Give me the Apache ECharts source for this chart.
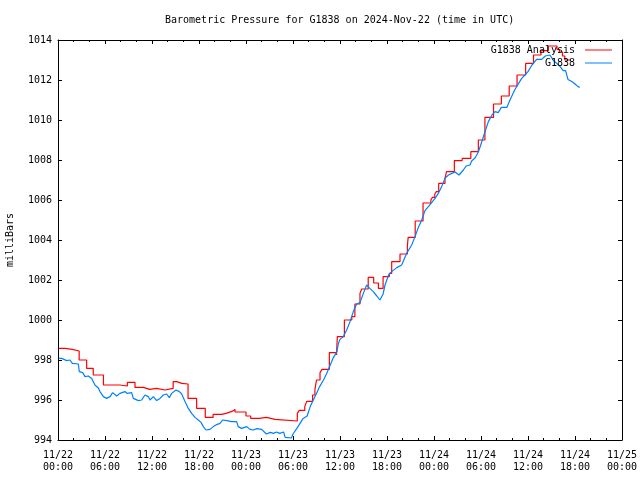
<!DOCTYPE html>
<html>
<head>
<meta charset="utf-8">
<script src="https://cdn.jsdelivr.net/npm/echarts@6/dist/echarts.min.js"></script>
<style>html,body{margin:0;padding:0;background:#fff}#c{width:640px;height:480px}</style>
</head>
<body>
<div id="c"></div>
<script>
// Hours since 2024-11-22 00:00 UTC
var xTickLabels = ['11/22\n00:00','11/22\n06:00','11/22\n12:00','11/22\n18:00','11/23\n00:00','11/23\n06:00','11/23\n12:00','11/23\n18:00','11/24\n00:00','11/24\n06:00','11/24\n12:00','11/24\n18:00','11/25\n00:00'];
var yTickValues = [994, 996, 998, 1000, 1002, 1004, 1006, 1008, 1010, 1012, 1014];

// G1838 Analysis (stepped)
var redTimes = [0.1,0.9,1.83,2.7,3.66,4.5,5.8,7.9,8.85,9.83,10.9,11.7,12.6,13.66,14.7,15.15,15.8,16.6,17.7,18.8,19.8,20.9,21.45,22.2,22.6,24.0,24.6,25.7,26.6,27.7,30.55,30.8,31.5,31.75,32.5,32.8,33.0,33.45,33.7,34.64,35.55,35.66,36.56,37.5,37.9,38.55,38.77,39.6,39.9,40.3,40.9,41.5,42.3,42.6,43.66,44.6,44.7,45.6,46.6,47.6,47.8,48.1,48.3,48.6,49.4,49.6,50.6,51.6,52.7,53.66,54.5,55.6,56.6,57.6,58.6,59.7,60.7,61.65,62.6,63.7,64.0,64.4,64.7,65.4];
var redValues = [998.58,998.53,998.45,998.0,997.58,997.25,996.75,996.7,996.88,996.63,996.53,996.58,996.5,996.58,996.92,996.83,996.8,996.08,995.58,995.13,995.28,995.33,995.43,995.53,995.4,995.2,995.08,995.13,995.03,994.95,995.33,995.48,995.67,995.93,996.25,996.53,997.0,997.37,997.53,998.37,998.25,999.17,1000.0,1000.17,1000.8,1001.33,1001.55,1002.13,1002.13,1001.85,1001.58,1002.17,1002.33,1002.92,1003.3,1003.7,1004.13,1004.95,1005.85,1006.0,1006.13,1006.3,1006.42,1006.83,1007.08,1007.42,1007.97,1008.08,1008.42,1009.0,1010.13,1010.8,1011.2,1011.7,1012.25,1012.83,1013.25,1013.47,1013.7,1013.53,1013.4,1013.2,1013.0,1013.0];

// G1838 observations
var blueTimes = [0.1,0.47,1.11,1.53,1.83,2.6,2.72,3.15,3.45,3.87,4.3,4.72,5.15,5.36,5.79,6.21,6.64,6.98,7.49,7.91,8.55,8.85,9.4,9.62,10.26,10.68,11.1,11.53,11.74,12.17,12.6,13.02,13.45,13.87,14.21,14.51,15.06,15.49,15.79,16.21,16.64,17.06,17.49,17.91,18.26,18.55,18.89,19.4,19.83,20.26,20.68,21.02,21.53,22.17,22.81,23.0,23.45,24.1,24.5,24.9,25.4,26.0,26.6,27.1,27.5,27.9,28.3,28.8,29.0,29.8,30.0,30.5,30.9,31.3,31.8,32.2,32.5,33.0,33.4,33.9,34.3,34.7,35.1,35.6,35.8,36.0,36.43,36.85,37.28,37.7,38.13,38.55,38.98,39.4,39.8,40.25,40.7,41.1,41.5,41.75,42.2,42.6,43.24,43.87,44.5,45.15,45.58,46.0,46.43,46.85,47.28,47.7,48.13,48.55,48.98,49.4,49.84,50.27,50.68,51.2,51.75,52.1,52.6,52.8,53.24,53.66,54.09,54.5,54.94,55.4,55.8,56.2,56.6,57.3,57.7,58.3,58.8,59.2,59.6,60.0,60.5,61.1,61.75,62.2,62.4,62.8,63.2,63.66,64.1,64.5,64.8,65.1,65.6,66.0,66.4,66.6];
var blueValues = [998.08,998.08,997.97,998.0,997.83,997.8,997.42,997.37,997.17,997.2,997.08,996.75,996.6,996.42,996.17,996.08,996.17,996.37,996.2,996.33,996.42,996.33,996.37,996.08,995.97,996.0,996.25,996.17,996.0,996.17,995.97,996.08,996.25,996.3,996.12,996.33,996.5,996.42,996.3,995.92,995.58,995.33,995.13,995.0,994.88,994.67,994.5,994.53,994.67,994.77,994.83,995.0,994.97,994.92,994.92,994.67,994.58,994.67,994.53,994.5,994.57,994.53,994.3,994.38,994.33,994.4,994.33,994.4,994.13,994.1,994.3,994.58,994.83,995.08,995.2,995.67,995.92,996.33,996.67,997.0,997.33,997.7,998.08,998.42,998.83,999.03,999.17,999.5,999.92,1000.42,1000.8,1000.87,1001.33,1001.75,1001.58,1001.42,1001.2,1001.0,1001.3,1001.75,1002.25,1002.42,1002.62,1002.75,1003.33,1003.75,1004.17,1004.63,1005.0,1005.47,1005.67,1005.87,1006.08,1006.33,1006.67,1007.08,1007.25,1007.33,1007.4,1007.25,1007.5,1007.7,1007.75,1007.95,1008.1,1008.4,1008.9,1009.4,1009.92,1010.25,1010.42,1010.37,1010.63,1010.63,1011.0,1011.5,1011.83,1012.08,1012.25,1012.42,1012.75,1013.03,1013.03,1013.2,1013.1,1013.25,1013.0,1012.83,1012.67,1012.47,1012.47,1012.03,1011.92,1011.8,1011.67,1011.63];

function zip(a, b) { return a.map(function (t, i) { return [t, b[i]]; }); }

var FONT = 'DejaVu Sans Mono';
var chart = echarts.init(document.getElementById('c'), null, { renderer: 'canvas' });

var axisLine = { show: true, onZero: false, lineStyle: { color: '#000', width: 1 } };
var xBase = {
  type: 'value', min: 0, max: 72, interval: 6,
  axisLine: axisLine,
  axisTick: { show: true, inside: true, length: 4, lineStyle: { color: '#000' } },
  minorTick: { show: true, splitNumber: 3, length: 2, lineStyle: { color: '#000' } },
  splitLine: { show: false }
};
var yBase = {
  type: 'value', min: yTickValues[0], max: yTickValues[yTickValues.length - 1], interval: 2,
  axisLine: axisLine,
  axisTick: { show: true, inside: true, length: 4, lineStyle: { color: '#000' } },
  splitLine: { show: false }
};

chart.setOption({
  animation: false,
  backgroundColor: '#fff',
  title: {
    text: 'Barometric Pressure for G1838 on 2024-Nov-22 (time in UTC)',
    left: 165, top: 15, padding: 0,
    textStyle: { fontFamily: FONT, fontSize: 10, fontWeight: 'normal', color: '#000' }
  },
  legend: {
    orient: 'vertical', right: 28, top: 44, align: 'right', padding: 0,
    icon: 'rect',
    itemWidth: 27, itemHeight: 1, itemGap: 1,
    textStyle: { fontFamily: FONT, fontSize: 10, color: '#000', padding: [0, 5, 0, 0], lineHeight: 12 },
    data: ['G1838 Analysis', 'G1838']
  },
  grid: { left: 58, right: 18, top: 40, bottom: 40, containLabel: false, outerBoundsMode: 'none' },
  xAxis: [
    Object.assign({}, xBase, {
      position: 'bottom',
      axisLabel: {
        show: true, margin: 9, lineHeight: 12,
        fontFamily: FONT, fontSize: 10, color: '#000',
        formatter: function (v) { return xTickLabels[Math.round(v / 6)]; }
      }
    }),
    Object.assign({}, xBase, { position: 'top', axisLabel: { show: false } })
  ],
  yAxis: [
    Object.assign({}, yBase, {
      position: 'left',
      name: 'milliBars', nameLocation: 'middle', nameGap: 43, nameRotate: 90,
      nameTextStyle: { fontFamily: FONT, fontSize: 10, color: '#000' },
      axisLabel: {
        show: true, margin: 6, fontFamily: FONT, fontSize: 10, color: '#000',
        formatter: function (v) { return String(v); }
      }
    }),
    Object.assign({}, yBase, { position: 'right', axisLabel: { show: false } })
  ],
  series: [
    {
      name: 'G1838 Analysis', type: 'line', step: 'end',
      data: zip(redTimes, redValues),
      symbol: 'none', color: '#ff0000',
      lineStyle: { color: '#ff0000', width: 1.2 }
    },
    {
      name: 'G1838', type: 'line',
      data: zip(blueTimes, blueValues),
      symbol: 'none', color: '#0080ff',
      lineStyle: { color: '#0080ff', width: 1.2 }
    }
  ]
});
</script>
</body>
</html>
